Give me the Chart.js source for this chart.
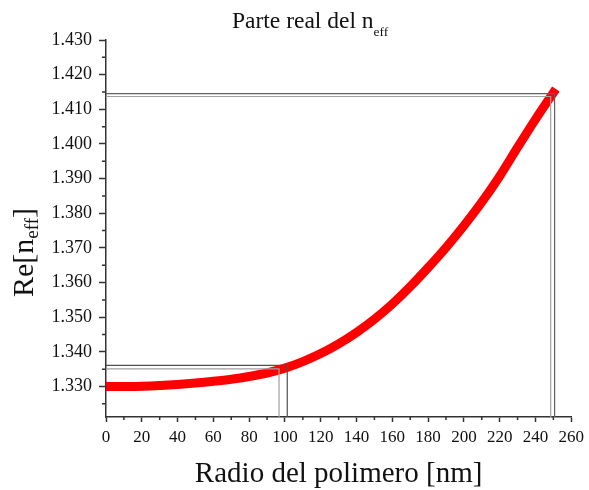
<!DOCTYPE html>
<html>
<head>
<meta charset="utf-8">
<script src="https://cdn.jsdelivr.net/npm/chart.js@4"></script>
<style>
  body { margin: 0; background: #fff; }
</style>
</head>
<body>
<canvas id="myChart" width="589" height="490"></canvas>
<script>
// radio del polimero [nm] y parte real del n_eff
var radio = [0,10,20,30,40,50,60,70,80,90,100,110,120,130,140,150,160,170,180,190,200,210,220,230,240,250];
var reNeff = [1.3300,1.3300,1.3301,1.3303,1.3306,1.3310,1.3315,1.3321,1.3329,1.3339,1.3353,1.3372,1.3395,1.3423,1.3456,1.3494,1.3538,1.3588,1.3643,1.3701,1.3764,1.3832,1.3907,1.3990,1.4071,1.4148];

// lineas guia (x del tramo vertical, y del tramo horizontal)
var guiaX = [96.7, 101.3, 248.5, 250.7];
var guiaY = [1.3351, 1.3361, 1.4137, 1.4145];
var guiaColor = ["#a0a0a0", "#505050", "#a0a0a0", "#606060"];

var xTicks = [0,20,40,60,80,100,120,140,160,180,200,220,240,260];
var xMinor = [10,30,50,70,90,110,130,150,170,190,210,230,250];
var yTicks = [1.330,1.340,1.350,1.360,1.370,1.380,1.390,1.400,1.410,1.420,1.430];
var yMinor = [1.325,1.335,1.345,1.355,1.365,1.375,1.385,1.395,1.405,1.415,1.425];
var yMin = 1.3212;

var fuente = '"Liberation Serif", "Times New Roman", serif';

var curva = radio.map(function(r, i){ return {x: r, y: reNeff[i]}; });

var datasets = [{
  label: "Re[neff]",
  data: curva,
  borderColor: "#ff0000",
  backgroundColor: "#ff0000",
  borderWidth: 9,
  borderCapStyle: "square",
  pointRadius: 0,
  cubicInterpolationMode: "monotone",
  fill: false,
  order: 2
}];

guiaX.forEach(function(gx, i){
  datasets.push({
    label: "guia" + i,
    data: [{x: 0, y: guiaY[i]}, {x: gx, y: guiaY[i]}, {x: gx, y: yMin}],
    borderColor: guiaColor[i],
    borderWidth: 1.2,
    pointRadius: 0,
    tension: 0,
    fill: false,
    order: 1
  });
});

var extras = {
  id: "extras",
  afterDraw: function(chart){
    var ctx = chart.ctx;
    var a = chart.chartArea;
    var x = chart.scales.x;
    var y = chart.scales.y;
    ctx.save();

    // ticks menores
    ctx.strokeStyle = "#333";
    ctx.lineWidth = 1.5;
    ctx.beginPath();
    xMinor.forEach(function(v){
      var p = x.getPixelForValue(v);
      ctx.moveTo(p, a.bottom);
      ctx.lineTo(p, a.bottom + 3);
    });
    yMinor.forEach(function(v){
      var p = y.getPixelForValue(v);
      ctx.moveTo(a.left, p);
      ctx.lineTo(a.left - 4, p);
    });
    ctx.stroke();

    ctx.fillStyle = "#111";
    ctx.textBaseline = "alphabetic";

    // titulo
    ctx.textAlign = "left";
    ctx.font = "23.5px " + fuente;
    var t = "Parte real del n";
    ctx.fillText(t, 232, 28);
    var w = ctx.measureText(t).width;
    ctx.font = "13.5px " + fuente;
    ctx.fillText("eff", 232 + w, 36);

    // titulo eje x
    ctx.textAlign = "center";
    ctx.font = "29px " + fuente;
    ctx.fillText("Radio del polimero [nm]", (a.left + a.right) / 2, 482);

    // titulo eje y
    ctx.translate(33, 297);
    ctx.rotate(-Math.PI / 2);
    ctx.textAlign = "left";
    ctx.font = "30px " + fuente;
    ctx.fillText("Re[n", 0, 0);
    var w1 = ctx.measureText("Re[n").width;
    ctx.font = "19px " + fuente;
    ctx.fillText("eff", w1, 5);
    var w2 = ctx.measureText("eff").width;
    ctx.font = "30px " + fuente;
    ctx.fillText("]", w1 + w2, 0);

    ctx.restore();
  }
};

new Chart("myChart", {
  type: "line",
  data: { datasets: datasets },
  plugins: [extras],
  options: {
    responsive: false,
    animation: false,
    layout: {
      padding: { left: 0, right: 15, top: 40, bottom: 0 }
    },
    plugins: {
      legend: { display: false },
      tooltip: { enabled: false }
    },
    scales: {
      x: {
        type: "linear",
        min: 0,
        max: 260,
        afterFit: function(s){ s.height = 73; },
        afterBuildTicks: function(s){ s.ticks = xTicks.map(function(v){ return {value: v}; }); },
        border: { display: true, color: "#333", width: 1.5 },
        grid: { display: true, drawOnChartArea: false, drawTicks: true, tickLength: 5, tickColor: "#333", tickWidth: 1.5 },
        ticks: {
          color: "#111",
          padding: 5,
          maxRotation: 0,
          autoSkip: false,
          font: { family: fuente, size: 17 },
          callback: function(v){ return String(v); }
        }
      },
      y: {
        type: "linear",
        min: yMin,
        max: 1.430,
        afterFit: function(s){ s.width = 106; },
        afterBuildTicks: function(s){ s.ticks = yTicks.map(function(v){ return {value: v}; }); },
        border: { display: true, color: "#333", width: 1.5 },
        grid: { display: true, drawOnChartArea: false, drawTicks: true, tickLength: 7, tickColor: "#333", tickWidth: 1.5 },
        ticks: {
          color: "#111",
          padding: 7,
          autoSkip: false,
          font: { family: fuente, size: 18 },
          callback: function(v){ return Number(v).toFixed(3); }
        }
      }
    }
  }
});
</script>
</body>
</html>
